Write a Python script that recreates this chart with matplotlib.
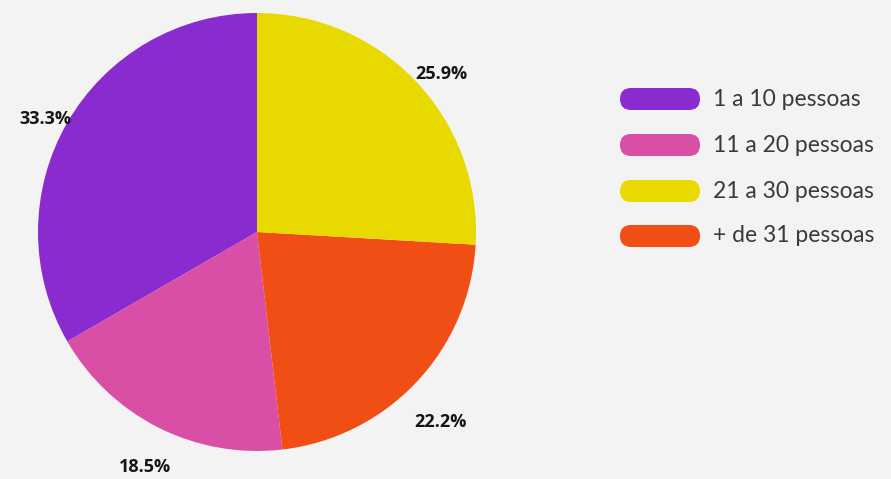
import numpy as np
import matplotlib.pyplot as plt
from matplotlib.patches import FancyBboxPatch

# data (pie drawn counter-clockwise from the top)
categories = ['1 a 10 pessoas', '11 a 20 pessoas', '21 a 30 pessoas', '+ de 31 pessoas']
values = [33.3, 18.5, 25.9, 22.2]
colors = ['#8a2bd0', '#d94fa6', '#e8d900', '#f04e14']
pie_order = [0, 1, 3, 2]  # purple, pink, orange, yellow

W, H = 891, 479
fig = plt.figure(figsize=(W / 100, H / 100), dpi=100)
fig.patch.set_facecolor('#f3f3f3')

# pie axes: centre (257, 232) px, radius 219 px
cx, cy, r = 257, 232, 219
ax = fig.add_axes([(cx - r) / W, (H - cy - r) / H, 2 * r / W, 2 * r / H])
ax.set_aspect('equal')
wedges, _ = ax.pie([values[i] for i in pie_order],
                   colors=[colors[i] for i in pie_order],
                   startangle=90, counterclock=True,
                   wedgeprops=dict(linewidth=0), radius=1)
ax.set_xlim(-1, 1)
ax.set_ylim(-1, 1)
ax.axis('off')

# percentage labels outside the wedges (distance, angle nudge in degrees)
label_dist = [1.10, 1.18, 1.20, 1.114]
label_nudge = [1.5, 1.0, -2.4, -2.4]
for w, i, d, a in zip(wedges, pie_order, label_dist, label_nudge):
    mid = np.deg2rad((w.theta1 + w.theta2) / 2 + a)
    ax.text(d * np.cos(mid), d * np.sin(mid), f'{values[i]}%',
            ha='center', va='center_baseline', fontsize=13, fontweight='bold',
            family='Open Sans', color='#151515', clip_on=False)

# legend drawn by hand with pill-shaped swatches
lx0, lx1, ly0, ly1 = 600, 891, 60, 280
lax = fig.add_axes([lx0 / W, (H - ly1) / H, (lx1 - lx0) / W, (ly1 - ly0) / H])
lax.set_xlim(lx0, lx1)
lax.set_ylim(ly1, ly0)
lax.axis('off')
row_y = [99, 145, 191, 236]
for cat, col, y in zip(categories, colors, row_y):
    lax.add_patch(FancyBboxPatch((620, y - 11), 80, 22,
                                 boxstyle='round,pad=0,rounding_size=11',
                                 facecolor=col, edgecolor='none'))
    lax.text(713, y, cat, ha='left', va='center', fontsize=16.5,
             family='Lato', fontweight='normal', color='#3a3a3a')

fig.savefig('out.png', dpi=100, facecolor=fig.get_facecolor())
